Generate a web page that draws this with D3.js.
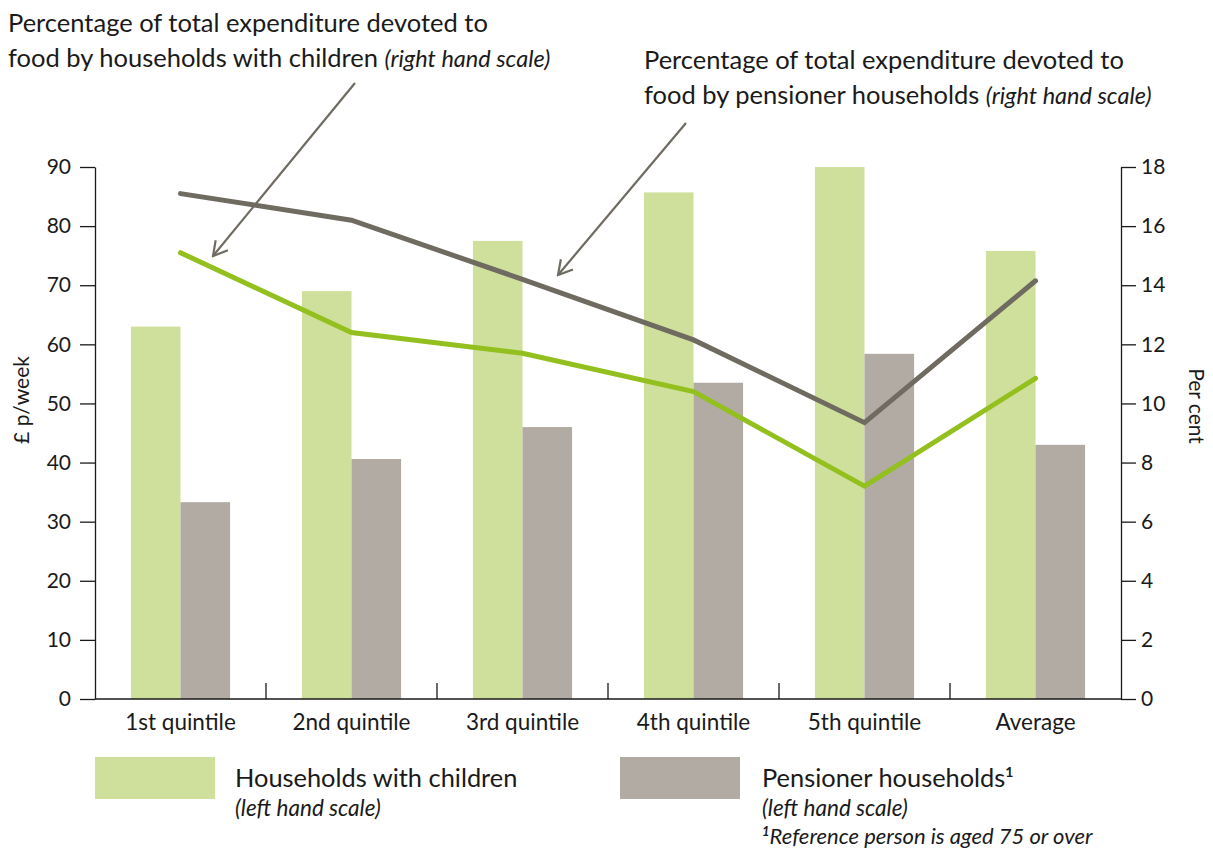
<!DOCTYPE html>
<html>
<head>
<meta charset="utf-8">
<script src="https://cdn.jsdelivr.net/npm/d3@7"></script>
<style>
  html, body { margin: 0; padding: 0; background: #fff; }
  svg { display: block; font-family: Lato, "Noto Sans", sans-serif; }
</style>
</head>
<body>
<svg id="chart" width="1213" height="850"></svg>
<script>
// Food spending by income quintile
const categories = ["1st quintile", "2nd quintile", "3rd quintile", "4th quintile", "5th quintile", "Average"];
// £ per week (left hand scale)
const childrenSpend = [63.0, 69.0, 77.5, 85.7, 90.0, 75.8];
const pensionerSpend = [33.3, 40.6, 46.0, 53.5, 58.4, 43.0];
// Share of total expenditure spent on food, per cent (right hand scale)
const childrenShare = [15.1, 12.4, 11.7, 10.4, 7.2, 10.85];
const pensionerShare = [17.1, 16.2, 14.2, 12.15, 9.35, 14.15];
const leftTicks = [0, 10, 20, 30, 40, 50, 60, 70, 80, 90];
const rightTicks = [0, 2, 4, 6, 8, 10, 12, 14, 16, 18];

const C = {
  greenBar: "#cfe09c",
  greyBar: "#b2aba4",
  greenLine: "#93c01f",
  greyLine: "#6f6b60",
  ink: "#1a1a1a"
};

const svg = d3.select("#chart");
const plot = { left: 95, right: 1121, top: 167, bottom: 699 };

const x = d3.scaleBand().domain(categories).range([plot.left, plot.right]).paddingInner(0.42).paddingOuter(0.21);
const xs = d3.scaleBand().domain(["children", "pensioner"]).range([0, x.bandwidth()]);
const yL = d3.scaleLinear().domain([0, 90]).range([plot.bottom, plot.top]);
const yR = d3.scaleLinear().domain([0, 18]).range([plot.bottom, plot.top]);

// bars
const barData = categories.map((c, i) => ({ c, children: childrenSpend[i], pensioner: pensionerSpend[i] }));
const groups = svg.append("g").selectAll("g").data(barData).join("g")
  .attr("transform", d => `translate(${x(d.c)},0)`);
groups.append("rect")
  .attr("x", xs("children")).attr("width", xs.bandwidth())
  .attr("y", d => yL(d.children)).attr("height", d => yL(0) - yL(d.children))
  .attr("fill", C.greenBar);
groups.append("rect")
  .attr("x", xs("pensioner")).attr("width", xs.bandwidth())
  .attr("y", d => yL(d.pensioner)).attr("height", d => yL(0) - yL(d.pensioner))
  .attr("fill", C.greyBar);

// axes
const axisStyle = g => {
  g.selectAll("path, line").attr("stroke", C.ink).attr("stroke-width", 1.3);
  g.selectAll("text").attr("fill", C.ink).style("font-family", "Lato, sans-serif").style("font-size", "21px");
};
svg.append("g").attr("transform", `translate(${plot.left},0)`)
  .call(d3.axisLeft(yL).tickValues(leftTicks).tickSize(15).tickSizeOuter(0).tickPadding(9))
  .call(axisStyle);
svg.append("g").attr("transform", `translate(${plot.right},0)`)
  .call(d3.axisRight(yR).tickValues(rightTicks).tickSize(15).tickSizeOuter(0).tickPadding(5))
  .call(axisStyle);

// x axis baseline with upward separators between categories
const xAxis = svg.append("g").attr("transform", `translate(0,${plot.bottom})`);
xAxis.append("line").attr("x1", plot.left).attr("x2", plot.right).attr("stroke", C.ink).attr("stroke-width", 1.5);
const step = x.step();
const seps = categories.slice(1).map(c => x(c) - x.paddingInner() * step / 2);
xAxis.selectAll("line.sep").data(seps).join("line").attr("class", "sep")
  .attr("x1", d => d).attr("x2", d => d).attr("y1", 0).attr("y2", -16)
  .attr("stroke", C.ink).attr("stroke-width", 1.3);
xAxis.selectAll("text").data(categories).join("text")
  .attr("x", d => x(d) + x.bandwidth() / 2).attr("y", 31)
  .attr("text-anchor", "middle").attr("fill", C.ink).style("font-size", "22.5px")
  .text(d => d);

// axis titles
svg.append("text").attr("transform", `translate(29,400) rotate(-90)`)
  .attr("text-anchor", "middle").attr("fill", C.ink).style("font-size", "21px").text("£ p/week");
svg.append("text").attr("transform", `translate(1189,406) rotate(90)`)
  .attr("text-anchor", "middle").attr("fill", C.ink).style("font-size", "21px").text("Per cent");

// lines
const lineGen = d3.line().x((d, i) => x(categories[i]) + x.bandwidth() / 2).y(d => yR(d));
svg.append("path").datum(pensionerShare).attr("d", lineGen)
  .attr("fill", "none").attr("stroke", C.greyLine).attr("stroke-width", 5)
  .attr("stroke-linecap", "round").attr("stroke-linejoin", "miter");
svg.append("path").datum(childrenShare).attr("d", lineGen)
  .attr("fill", "none").attr("stroke", C.greenLine).attr("stroke-width", 5)
  .attr("stroke-linecap", "round").attr("stroke-linejoin", "miter");

// annotation arrows
svg.append("defs").append("marker").attr("id", "arrowhead")
  .attr("viewBox", "0 0 20 20").attr("refX", 18).attr("refY", 10)
  .attr("markerWidth", 9).attr("markerHeight", 9).attr("markerUnits", "strokeWidth")
  .attr("orient", "auto")
  .append("path").attr("d", "M4,2 L18,10 L4,18").attr("fill", "none")
  .attr("stroke", C.greyLine).attr("stroke-width", 2.2);

const arrows = [
  { x1: 355, y1: 83, x2: 213, y2: 256 },
  { x1: 686, y1: 123, x2: 558, y2: 275 }
];
svg.selectAll("line.arrow").data(arrows).join("line").attr("class", "arrow")
  .attr("x1", d => d.x1).attr("y1", d => d.y1).attr("x2", d => d.x2).attr("y2", d => d.y2)
  .attr("stroke", C.greyLine).attr("stroke-width", 2.2).attr("marker-end", "url(#arrowhead)");

// annotation texts
function annot(xp, y1, l1, l2a, l2b) {
  const t = svg.append("g").attr("fill", C.ink).style("font-size", "25.5px");
  t.append("text").attr("x", xp).attr("y", y1).text(l1);
  const t2 = t.append("text").attr("x", xp).attr("y", y1 + 35);
  t2.append("tspan").text(l2a);
  t2.append("tspan").attr("font-style", "italic").style("font-size", "23.5px").text(l2b);
}
annot(8, 32, "Percentage of total expenditure devoted to", "food by households with children ", "(right hand scale)");
annot(644, 69, "Percentage of total expenditure devoted to", "food by pensioner households ", "(right hand scale)");

// legend
const legend = svg.append("g");
legend.append("rect").attr("x", 95).attr("y", 757).attr("width", 120).attr("height", 42).attr("fill", C.greenBar);
legend.append("rect").attr("x", 620).attr("y", 757).attr("width", 120).attr("height", 42).attr("fill", C.greyBar);
legend.append("text").attr("x", 235).attr("y", 787).attr("fill", C.ink).style("font-size", "25.4px").text("Households with children");
legend.append("text").attr("x", 235).attr("y", 816).attr("fill", C.ink).style("font-size", "22.5px").attr("font-style", "italic").text("(left hand scale)");
const ph = legend.append("text").attr("x", 762).attr("y", 787).attr("fill", C.ink).style("font-size", "25.4px");
ph.append("tspan").text("Pensioner households");
ph.append("tspan").attr("dy", -10).style("font-size", "14px").attr("font-weight", "bold").text("1");
legend.append("text").attr("x", 762).attr("y", 816).attr("fill", C.ink).style("font-size", "22.5px").attr("font-style", "italic").text("(left hand scale)");
const fn = legend.append("text").attr("x", 762).attr("y", 844).attr("fill", C.ink).style("font-size", "22px").attr("font-style", "italic");
fn.append("tspan").attr("dy", -8).style("font-size", "13px").attr("font-weight", "bold").text("1");
fn.append("tspan").attr("dy", 8).text("Reference person is aged 75 or over");
</script>
</body>
</html>
